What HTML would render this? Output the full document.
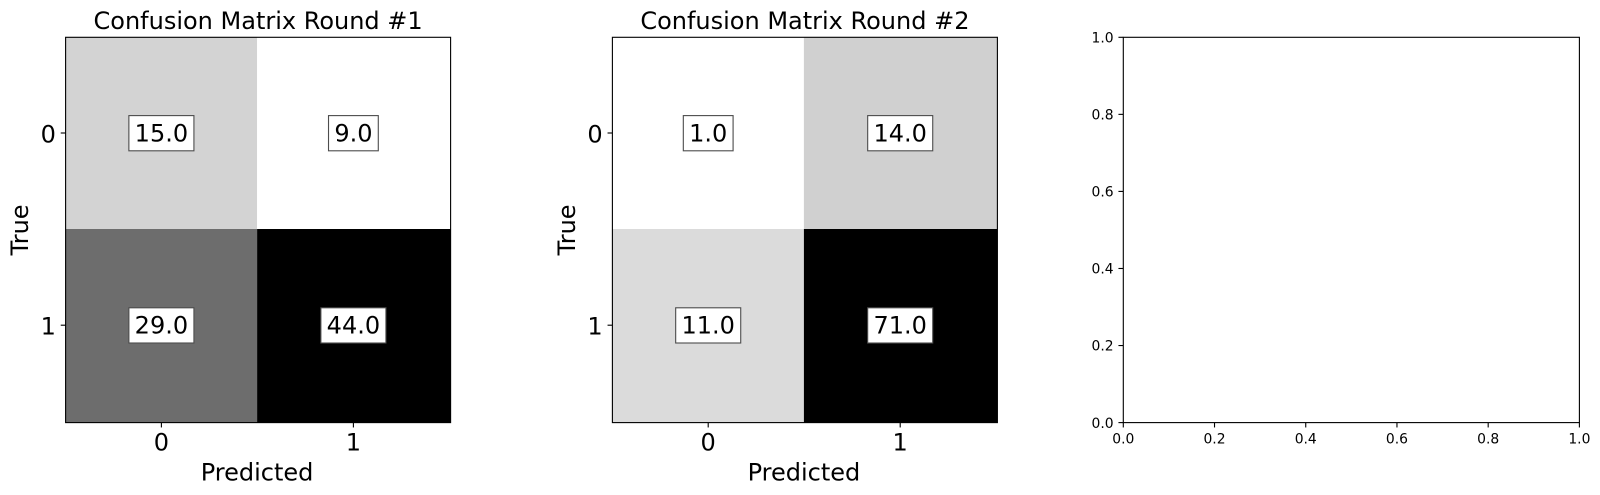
<!DOCTYPE html>
<html lang="en">
<head>
<meta charset="utf-8">
<title>Confusion Matrices</title>
<style>
html,body{margin:0;padding:0;background:#fff;width:1600px;height:495px;overflow:hidden}
svg{display:block}
text{font-family:"DejaVu Sans","Liberation Sans",sans-serif;fill:#000}
</style>
</head>
<body>
<svg id="figure" xmlns="http://www.w3.org/2000/svg" width="1600" height="495" viewBox="0 0 1600 495">
<rect x="0" y="0" width="1600" height="495" fill="#ffffff"/>
</svg>
<script>
var categories = ['0', '1'];
var matrixRound1 = [[15, 9], [29, 44]];
var matrixRound2 = [[1, 14], [11, 71]];
var titleRound1 = 'Confusion Matrix Round #1';
var titleRound2 = 'Confusion Matrix Round #2';
var xAxisTitle = 'Predicted';
var yAxisTitle = 'True';
var emptyTicks = [0, 0.2, 0.4, 0.6, 0.8, 1];

var NS = 'http://www.w3.org/2000/svg';
var svg = document.getElementById('figure');
var BIG = 24;
var SMALL = 13.89;
var SPINE = 1.11;
var TICK = 4.86;
var TOP = 37.3;
var BOTTOM = 422.6;

function make(tag, parent, props) {
  var el = document.createElementNS(NS, tag);
  for (var k in props) el.setAttribute(k, props[k]);
  parent.appendChild(el);
  return el;
}

function drawLine(parent, x1, y1, x2, y2) {
  var el = make('line', parent, {x1: x1, y1: y1, x2: x2, y2: y2, stroke: '#000', 'stroke-width': SPINE});
  return el;
}

function drawText(parent, str, x, y, size, anchor) {
  var el = make('text', parent, {x: x, y: y, 'font-size': size, 'text-anchor': anchor});
  el.textContent = str;
  return el;
}

function drawSpines(parent, left, right) {
  var box = make('rect', parent, {x: left, y: TOP, width: right - left, height: BOTTOM - TOP, fill: 'none', stroke: '#000', 'stroke-width': SPINE});
  
  
}

function drawMatrix(matrix, title, left, ylabelX, prefix) {
  var right = left + 385;
  var group = make('g', svg, {});
  
  

  var flat = matrix[0].concat(matrix[1]);
  var minV = Math.min.apply(null, flat);
  var maxV = Math.max.apply(null, flat);
  var last = categories.length - 1;
  function xEdge(i) { return left + i * 191.5; }
  function yEdge(i) { return TOP + i * 191.7; }
  function cellW(i) { return i === last ? right - xEdge(i) : 191.5; }
  function cellH(i) { return i === last ? BOTTOM - yEdge(i) : 191.7; }
  function xCenter(i) { return left + 95.8 + i * 192; }
  function yCenter(i) { return TOP + 95.7 + i * 192.2; }
  function shade(v) {
    var g = Math.round(255 * (1 - (v - minV) / (maxV - minV)));
    return 'rgb(' + g + ',' + g + ',' + g + ')';
  }

  matrix.forEach(function (row, r) {
    row.forEach(function (v, c) {
      var cell = make('rect', group, {x: xEdge(c), y: yEdge(r), width: cellW(c), height: cellH(r), fill: shade(v)});
      
      
    });
  });

  drawSpines(group, left, right);

  matrix.forEach(function (row, r) {
    row.forEach(function (v, c) {
      var cx = xCenter(c);
      var cy = yCenter(r);
      var box = make('rect', group, {y: cy - 17.4, height: 35.2, fill: '#fff', stroke: '#4d4d4d', 'stroke-width': 1.11});
      
      
      var label = drawText(group, v.toFixed(1), cx, cy + 8.3, BIG, 'middle');
      
      
      var w = label.getComputedTextLength() + 11.6;
      box.setAttribute('x', cx - w / 2);
      box.setAttribute('width', w);
    });
  });

  categories.forEach(function (cat, i) {
    var xt = drawLine(group, xCenter(i), BOTTOM, xCenter(i), BOTTOM + TICK);
    
    
    var xl = drawText(group, cat, xCenter(i), 450.7, BIG, 'middle');
    
    
    var yt = drawLine(group, left, yCenter(i), left - TICK, yCenter(i));
    
    
    var yl = drawText(group, cat, left - TICK - 4.86, yCenter(i) + 9.4, BIG, 'end');
    
    
  });

  var t = drawText(group, title, left + 192.5, 29, BIG, 'middle');
  
  
  var xt2 = drawText(group, xAxisTitle, left + 191.5, 480.7, BIG, 'middle');
  
  
  var yt2 = drawText(group, yAxisTitle, 0, 0, BIG, 'middle');
  yt2.setAttribute('transform', 'translate(' + ylabelX + ' ' + ((TOP + BOTTOM) / 2) + ') rotate(-90)');
  
  
}

function drawEmptyAxes(left, right) {
  var group = make('g', svg, {});
  
  
  drawSpines(group, left, right);
  function sx(v) { return left + v * (right - left); }
  function sy(v) { return BOTTOM - v * (BOTTOM - TOP); }
  emptyTicks.forEach(function (v) {
    var s = v.toFixed(1);
    var xt = drawLine(group, sx(v), BOTTOM, sx(v), BOTTOM + TICK);
    
    
    var xl = drawText(group, s, sx(v), 443.3, SMALL, 'middle');
    
    
    var yt = drawLine(group, left, sy(v), left - TICK, sy(v));
    
    
    var yl = drawText(group, s, left - TICK - 4.86, sy(v) + 5.2, SMALL, 'end');
    
    
  });
}

drawMatrix(matrixRound1, titleRound1, 65.6, 28.2, 'round-1');
drawMatrix(matrixRound2, titleRound2, 612.4, 575, 'round-2');
drawEmptyAxes(1123.3, 1579.4);
</script>
</body>
</html>
